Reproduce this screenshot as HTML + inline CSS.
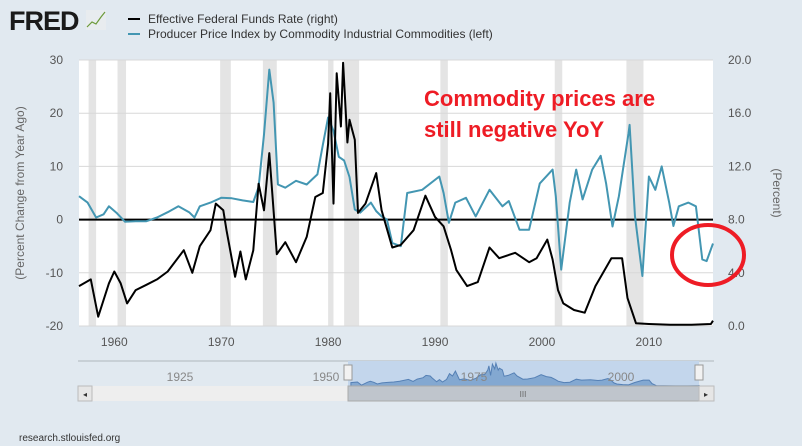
<!DOCTYPE html>
<html><head><meta charset="utf-8"><style>
body{margin:0;width:802px;height:446px;background:#e1e9f0;font-family:"Liberation Sans",sans-serif;overflow:hidden}
svg{display:block}
</style></head><body>
<svg id="c" width="802" height="446">
<g>
<text x="9" y="30" font-size="27" font-weight="bold" fill="#1a1a1a" letter-spacing="-1">FRED</text>
<rect x="86" y="10" width="20" height="20" fill="#e8ecef"/>
<polyline points="87,27 92,22 96,24 101,17 105,12" fill="none" stroke="#6c9a3a" stroke-width="1.2"/>
</g>
<g>
<line x1="128" y1="19" x2="140" y2="19" stroke="#000" stroke-width="2"/>
<text x="148" y="23" font-size="12" fill="#333">Effective Federal Funds Rate (right)</text>
<line x1="128" y1="34" x2="140" y2="34" stroke="#4396b2" stroke-width="2"/>
<text x="148" y="38" font-size="12" fill="#333">Producer Price Index by Commodity Industrial Commodities (left)</text>
</g>
<rect x="79" y="60" width="634" height="266" fill="#fff"/>
<g id="rec"></g><g id="grid"></g><g id="axes"></g><g id="series"></g>
<text transform="translate(24,193) rotate(-90)" text-anchor="middle" font-size="12" fill="#666">(Percent Change from Year Ago)</text>
<text transform="translate(773,193) rotate(90)" text-anchor="middle" font-size="12" fill="#666">(Percent)</text>
<text x="424" y="106" font-size="22" font-weight="bold" fill="#ee1c25">Commodity prices are</text>
<text x="424" y="137" font-size="22" font-weight="bold" fill="#ee1c25">still negative YoY</text>
<ellipse cx="708" cy="255" rx="36" ry="30" fill="none" stroke="#ee1c25" stroke-width="4"/>
<g>
<rect x="78" y="361" width="636" height="25" fill="#e1e9f0" stroke="none"/>
<line x1="78" y1="361" x2="714" y2="361" stroke="#b0b6bd"/>
<rect x="348" y="361" width="351" height="25" fill="#c3d6ec"/>
<path id="navarea" fill="#6e98c8" fill-opacity="0.75" stroke="#5580b5"/>
<text x="180" y="381" font-size="12" fill="#888" text-anchor="middle">1925</text>
<text x="326" y="381" font-size="12" fill="#888" text-anchor="middle">1950</text>
<text x="474" y="381" font-size="12" fill="#888" text-anchor="middle">1975</text>
<text x="621" y="381" font-size="12" fill="#888" text-anchor="middle">2000</text>
<rect x="344" y="365" width="8" height="15" fill="#f2f2f2" stroke="#999"/>
<rect x="695" y="365" width="8" height="15" fill="#f2f2f2" stroke="#999"/>
</g>
<g>
<rect x="78" y="386" width="636" height="15" fill="#eeeeee"/>
<rect x="348" y="386" width="351" height="15" fill="#bfc5cc" stroke="#aaa"/>
<text x="523" y="397" font-size="8" fill="#666" text-anchor="middle">III</text>
<rect x="78" y="386" width="14" height="15" fill="#e6e6e6" stroke="#bbb"/>
<text x="85" y="397" font-size="8" fill="#333" text-anchor="middle">◂</text>
<rect x="699" y="386" width="15" height="15" fill="#e6e6e6" stroke="#bbb"/>
<text x="706" y="397" font-size="8" fill="#333" text-anchor="middle">▸</text>
</g>
<text x="19" y="441" font-size="10" fill="#333">research.stlouisfed.org</text>
</svg>
<script>
const leftTicks=[30,20,10,0,-10,-20];
const rightTicks=["20.0","16.0","12.0","8.0","4.0","0.0"];
const xTicks=[1960,1970,1980,1990,2000,2010];
const recStart=[1957.6,1960.3,1969.9,1973.9,1980.0,1981.5,1990.5,2001.2,2007.9];
const recEnd=[1958.3,1961.1,1970.9,1975.2,1980.5,1982.9,1991.2,2001.9,2009.5];
const ppiYears=[1956.7,1957.5,1958.3,1959,1959.5,1960.2,1961,1962,1963,1964,1965,1966,1967,1967.5,1968,1969,1970,1971,1972,1973,1973.5,1974,1974.5,1974.9,1975.3,1976,1977,1978,1979,1979.5,1980,1980.5,1981,1981.5,1982,1982.5,1983,1984,1984.5,1985,1985.5,1986,1986.8,1987.4,1988.8,1990.4,1990.8,1991.3,1991.9,1992.9,1993.8,1995.1,1996.3,1996.9,1997.9,1998.8,1999.8,2001,2001.3,2001.8,2002.6,2003.2,2003.8,2004.7,2005.5,2006,2006.6,2007.2,2008.1,2008.2,2008.7,2009.4,2010,2010.6,2011.2,2011.9,2012.3,2012.8,2013.7,2014.4,2015,2015.4,2016];
const ppiValues=[4.4,3.2,0.4,1,2.5,1.3,-0.4,-0.3,-0.3,0.4,1.4,2.5,1.4,0.4,2.5,3.2,4.1,4,3.6,3.3,6.1,16,28.2,22,6.6,6,7.3,6.6,8.5,14,19.2,16.7,11.8,11.1,8,1.9,1.3,3.2,1.6,0.6,0,-4.4,-5,5,5.6,8.1,5,-0.6,3.2,4.1,0.6,5.6,2.5,3.5,-1.9,-1.9,6.8,9.4,4.4,-9.4,3.2,9.4,3.8,9.4,12,6.8,-1.3,4.4,16.2,17.8,0.6,-10.6,8.1,5.6,10,3.2,-1.2,2.5,3.2,2.5,-7.5,-7.8,-4.5];
const ffYears=[1956.7,1957.8,1958.5,1959.5,1960,1960.6,1961.2,1962,1963,1964,1965,1966.5,1967.3,1968,1969,1969.5,1970.2,1970.5,1971.3,1971.8,1972.3,1973,1973.5,1974,1974.5,1975.2,1976,1977,1978,1978.8,1979.5,1980,1980.2,1980.5,1980.8,1981.2,1981.4,1981.8,1982,1982.5,1982.8,1983.5,1984.5,1985,1986,1986.8,1988,1989.1,1990,1990.8,1991.5,1992,1993,1994,1995.1,1996,1997.5,1998.8,1999.5,2000.5,2001,2001.5,2002,2003,2004,2005,2006.5,2007.5,2008,2008.8,2010,2012,2014,2015.8,2016];
const ffValues=[3.0,3.5,0.7,3.2,4.1,3.2,1.7,2.7,3.1,3.5,4.1,5.7,4.0,6.0,7.2,9.2,8.7,7.2,3.7,5.6,3.5,5.7,10.7,8.7,13,5.4,6.3,4.8,6.7,9.7,10,13.7,17.5,9.2,19,15,19.8,13.8,15.5,14,8.5,9.2,11.5,8.7,5.9,6.1,7.2,9.8,8.2,7.5,5.7,4.2,3.0,3.3,5.9,5.1,5.5,4.8,5.1,6.5,5.0,2.7,1.7,1.2,1.0,3.0,5.1,5.1,2.1,0.2,0.15,0.1,0.1,0.15,0.4];
const NS='http://www.w3.org/2000/svg';
const X0=79,X1=713,T0=1956.7,T1=2016.0,Y0=60,Y1=326;
const xs=t=>X0+(t-T0)/(T1-T0)*(X1-X0);
const yl=v=>Y1-(v+20)/50*(Y1-Y0);
const yr=v=>Y1-v/20*(Y1-Y0);
function mk(tag,attrs,parent){const e=document.createElementNS(NS,tag);for(const k in attrs)e.setAttribute(k,attrs[k]);parent.appendChild(e);return e;}
const rec=document.getElementById('rec'),grid=document.getElementById('grid'),axes=document.getElementById('axes'),ser=document.getElementById('series');
recStart.forEach((s,i)=>{const r=mk('rect',{x:xs(s),y:Y0,width:xs(recEnd[i])-xs(s),height:Y1-Y0,fill:'#e4e4e4'},rec);

});
leftTicks.forEach((v,i)=>{const l=mk('line',{x1:X0,x2:X1,y1:yl(v),y2:yl(v),stroke:'#d8d8d8'},grid);


const t=mk('text',{x:63,y:yl(v)+4,'text-anchor':'end','font-size':12,fill:'#555'},axes);t.textContent=v;


const t2=mk('text',{x:728,y:yl(v)+4,'font-size':12,fill:'#555'},axes);t2.textContent=rightTicks[i];

});
xTicks.forEach(y=>{const t=mk('text',{x:xs(y),y:346,'text-anchor':'middle','font-size':12,fill:'#555'},axes);t.textContent=y;

});
const zl=mk('line',{x1:X0,x2:X1,y1:yl(0),y2:yl(0),stroke:'#000','stroke-width':2},ser);


const pp=mk('polyline',{points:ppiYears.map((t,i)=>xs(t).toFixed(1)+','+yl(ppiValues[i]).toFixed(1)).join(' '),fill:'none',stroke:'#4396b2','stroke-width':2,'stroke-linejoin':'round'},ser);


const ff=mk('polyline',{points:ffYears.map((t,i)=>xs(t).toFixed(1)+','+yr(ffValues[i]).toFixed(1)).join(' '),fill:'none',stroke:'#000','stroke-width':2,'stroke-linejoin':'round'},ser);


const nx=t=>338+(t-1954.5)/(2016-1954.5)*(699-338), ny=v=>386-v/20*23;
let d='M'+nx(ffYears[0])+',386 '+ffYears.map((t,i)=>'L'+nx(t).toFixed(1)+','+ny(ffValues[i]).toFixed(1)).join(' ')+' L'+nx(ffYears[ffYears.length-1])+',386 Z';
document.getElementById('navarea').setAttribute('d',d);
</script>
</body></html>
